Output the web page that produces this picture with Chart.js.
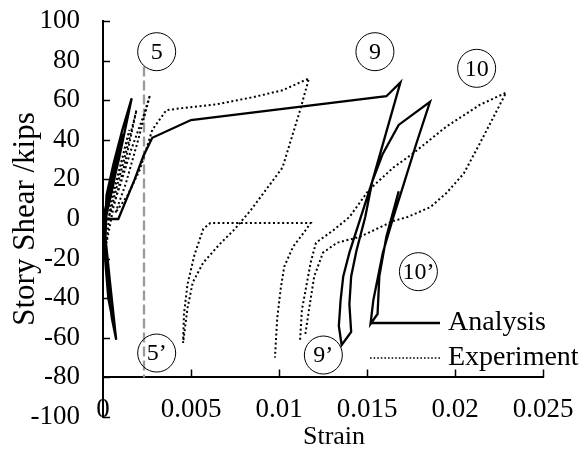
<!DOCTYPE html>
<html>
<head>
<meta charset="utf-8">
<title>Story shear vs strain</title>
<script src="https://cdn.jsdelivr.net/npm/chart.js@4.4.0/dist/chart.umd.min.js"></script>
<style>
  html, body { margin: 0; padding: 0; background: #fff; }
</style>
</head>
<body>
<canvas id="shear_strain" width="584" height="453"></canvas>
<script>
// analysis path (solid)
var analysisStrain = [0, 0.0004, 0.0008, 0.00115, 0.0006, 0.0001, 0.0002, 0.0005, 0.00075, 0.0004,
  0.0001, 0.0002, 0.0006, 0.0011, 0.00163, 0.0009, 0.0002, 0.0001, 0.0003, 0.0007,
  0.0003, 0, 0.00087, 0.0018, 0.0023, 0.0028, 0.0050, 0.0161, 0.0169, 0.0153,
  0.0140, 0.01365, 0.0135, 0.0134, 0.01356, 0.0141, 0.0140, 0.0141, 0.0144, 0.0149,
  0.0153, 0.0159, 0.0168, 0.01858, 0.0178, 0.0171, 0.0165, 0.0159, 0.01536, 0.0152,
  0.0156, 0.0157, 0.0161, 0.0168];
var analysisShear = [0, 16, 31, 43, 18, -2, -28, -50, -61, -32,
  -6, 12, 28, 45, 61, 30, 4, -18, -40, -58,
  -30, 0, 0, 20, 32, 41, 50, 62, 69, 19,
  -17, -29, -41, -54, -63.6, -57, -43, -29, -16, 1,
  19, 33, 47.5, 59.2, 38, 18, 1, -17, -41, -53,
  -48, -29, -9, 14];

// test record (dotted), null = break between recorded runs
var testStrain = [0, 0.0008, 0.0015, 0.0009, 0.0004, 0.0002, 0.0006, 0.0013, 0.0019, 0.0012,
  0.0006, 0.0003, 0.0009, 0.0016, 0.0023, 0.00267, 0.0020, 0.0013, 0.0007, 0.0014,
  0.0021, 0.0028, 0.0036, 0.0045, 0.0065, 0.0085, 0.0102, 0.0117, 0.0112, 0.0102,
  0.0084, 0.0075, 0.0066, 0.0057, 0.0051, 0.0048, 0.00455, 0.0046, 0.0048, 0.0052,
  0.0057, 0.0061, 0.0118, 0.0114, 0.0108, 0.0103, 0.0101, 0.0099, 0.00977, null,
  0.0112, 0.0113, 0.0118, 0.0121, 0.0131, 0.0140, 0.0151, 0.0165, 0.0176, 0.0195,
  0.0214, 0.0229, 0.0221, 0.0214, 0.0205, 0.0195, 0.0186, 0.0173, 0.0165, 0.0146,
  0.0133, 0.0125, 0.0120, 0.0117, 0.0115];
var testShear = [0, 20, 45, 24, 6, -12, 6, 30, 55, 30,
  10, 0, 15, 35, 52, 62.6, 40, 18, 3, 12,
  25, 45, 55, 56, 58, 61.5, 65, 71, 55, 26,
  4.5, -5, -13, -22, -32, -45, -62.6, -48, -33, -18,
  -5, -2, -2, -7, -14, -24, -35, -50, -70, null,
  -61, -46, -22, -12, -5.6, 1, 14.6, 26, 33, 46.6,
  57.6, 63.8, 50, 38, 23, 13, 6, 1, -1, -9,
  -12, -17, -29, -46, -58];

// step 5 marker
var markerStrain = [0.00233, 0.00233];
var markerShear = [77, -80];

// load step tags
var stepTags = ['5', '5\u2019', '9', '9\u2019', '10', '10\u2019'];
var stepStrain = [0.00305, 0.00305, 0.01545, 0.01252, 0.02123, 0.01792];
var stepShear = [84.5, -67.7, 84.5, -68.7, 76.1, -26.6];

var strainTicks = [0, 0.005, 0.01, 0.015, 0.02, 0.025];
var strainLabels = ['0', '0.005', '0.01', '0.015', '0.02', '0.025'];
var shearTicks = [-100, -80, -60, -40, -20, 0, 20, 40, 60, 80, 100];
var xAxisAt = -80;

function toPoints(xs, ys) {
  return xs.map(function(x, i) {
    return x === null ? {x: null, y: null} : {x: x, y: ys[i]};
  });
}

var serif = "'Liberation Serif', 'Times New Roman', serif";
Chart.defaults.font.family = serif;
Chart.defaults.color = '#000';

// tick marks point inward, tags, legend and x title
var decorations = {
  id: 'decorations',
  afterDraw: function(chart) {
    var ctx = chart.ctx, area = chart.chartArea;
    var xs = chart.scales.x, ys = chart.scales.y;
    var axisY = ys.getPixelForValue(xAxisAt);
    ctx.save();
    ctx.strokeStyle = '#000';
    ctx.fillStyle = '#000';
    ctx.lineWidth = 1.5;
    ctx.beginPath();
    strainTicks.forEach(function(v) {
      if (v === 0) return;
      var px = Math.round(xs.getPixelForValue(v)) + 0.5;
      ctx.moveTo(px, axisY);
      ctx.lineTo(px, axisY - 8);
    });
    shearTicks.forEach(function(v) {
      var py = Math.round(ys.getPixelForValue(v)) + 0.5;
      ctx.moveTo(area.left, py);
      ctx.lineTo(area.left + 7, py);
    });
    ctx.stroke();

    // circled step numbers
    ctx.lineWidth = 1;
    ctx.font = '24px ' + serif;
    ctx.textAlign = 'center';
    ctx.textBaseline = 'middle';
    stepTags.forEach(function(t, i) {
      var cx = xs.getPixelForValue(stepStrain[i]);
      var cy = ys.getPixelForValue(stepShear[i]);
      ctx.beginPath();
      ctx.arc(cx, cy, 19, 0, Math.PI * 2);
      ctx.stroke();
      ctx.fillText(t, cx, cy + 1);
    });

    // legend
    var lx0 = area.right - 173, lx1 = area.right - 103;
    var ly1 = area.bottom - 94, ly2 = area.bottom - 59;
    ctx.lineWidth = 2.3;
    ctx.beginPath();
    ctx.moveTo(lx0, ly1);
    ctx.lineTo(lx1, ly1);
    ctx.stroke();
    ctx.lineWidth = 1.6;
    ctx.setLineDash([1.6, 2]);
    ctx.beginPath();
    ctx.moveTo(lx0, ly2);
    ctx.lineTo(lx1, ly2);
    ctx.stroke();
    ctx.setLineDash([]);
    ctx.font = '28px ' + serif;
    ctx.textAlign = 'left';
    ctx.fillText('Analysis', area.right - 95, ly1);
    ctx.fillText('Experiment', area.right - 95, ly2);

    // x axis title
    ctx.font = '26px ' + serif;
    ctx.textAlign = 'center';
    ctx.fillText('Strain', (area.left + area.right) / 2 + 11, area.bottom + 20);
    ctx.restore();
  }
};

// invisible tick length spaces the labels off the axis without padding the layout
var hiddenTick = 'rgba(0,0,0,0)';

new Chart(document.getElementById('shear_strain'), {
  type: 'scatter',
  data: {
    datasets: [
      {
        label: 'Analysis',
        data: toPoints(analysisStrain, analysisShear),
        showLine: true,
        borderColor: '#000',
        borderWidth: 2.3,
        pointRadius: 0,
        tension: 0,
        spanGaps: false,
        order: 1
      },
      {
        label: 'Experiment',
        data: toPoints(testStrain, testShear),
        showLine: true,
        borderColor: '#000',
        borderWidth: 2,
        borderDash: [2, 2.6],
        pointRadius: 0,
        tension: 0,
        spanGaps: false,
        order: 2
      },
      {
        label: 'Step 5',
        data: toPoints(markerStrain, markerShear),
        showLine: true,
        borderColor: '#9a9a9a',
        borderWidth: 2.3,
        borderDash: [10, 4],
        pointRadius: 0,
        order: 3
      }
    ]
  },
  options: {
    responsive: false,
    animation: false,
    layout: {
      padding: {top: 21, right: 41, bottom: 36, left: 0}
    },
    plugins: {
      legend: {display: false},
      tooltip: {enabled: false}
    },
    scales: {
      x: {
        type: 'linear',
        min: 0,
        max: 0.025,
        position: {y: xAxisAt},
        afterBuildTicks: function(scale) {
          scale.ticks = strainTicks.map(function(v) { return {value: v}; });
        },
        ticks: {
          font: {size: 27},
          padding: 0,
          maxRotation: 0,
          autoSkip: false,
          callback: function(v) {
            var i = strainTicks.indexOf(v);
            return i < 0 ? '' : strainLabels[i];
          }
        },
        grid: {drawOnChartArea: false, drawTicks: true, tickLength: 16, tickColor: hiddenTick},
        border: {display: true, color: '#000', width: 2}
      },
      y: {
        type: 'linear',
        min: -100,
        max: 100,
        position: 'left',
        afterBuildTicks: function(scale) {
          scale.ticks = shearTicks.map(function(v) { return {value: v}; });
        },
        afterFit: function(scale) {
          scale.width = 103;
        },
        ticks: {
          font: {size: 27},
          padding: 0,
          callback: function(v) { return String(v); }
        },
        grid: {drawOnChartArea: false, drawTicks: true, tickLength: 23, tickColor: hiddenTick},
        border: {display: true, color: '#000', width: 2},
        title: {
          display: true,
          text: 'Story Shear /kips',
          font: {size: 31},
          padding: {top: 7, bottom: 0}
        }
      }
    }
  },
  plugins: [decorations]
});
</script>
</body>
</html>
